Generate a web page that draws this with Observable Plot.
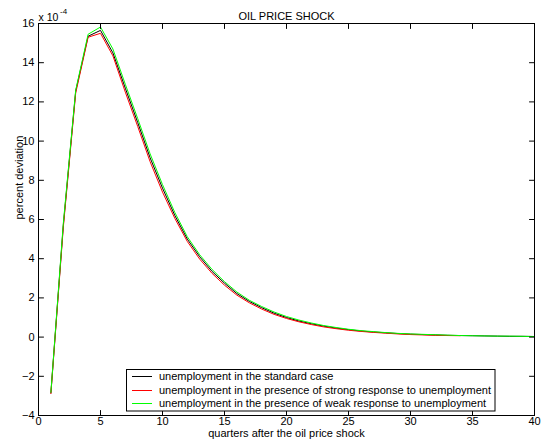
<!DOCTYPE html>
<html>
<head>
<meta charset="utf-8">
<script src="https://cdn.jsdelivr.net/npm/d3@7"></script>
<script src="https://cdn.jsdelivr.net/npm/@observablehq/plot@0.6"></script>
<style>
  html, body { margin: 0; padding: 0; background: white; }
</style>
</head>
<body>
<div id="chart"></div>
<script>
// Data (values in units of 1e-4)
const quarters = d3.range(1, 41);
const standardCase = [-2.85, 5.7, 12.55, 15.35, 15.65, 14.5, 12.7, 10.95, 9.15, 7.6,
  6.2, 5.0, 4.1, 3.35, 2.75, 2.22, 1.82, 1.5, 1.22, 1.0,
  0.82, 0.68, 0.56, 0.46, 0.38, 0.31, 0.26, 0.22, 0.18, 0.15,
  0.13, 0.11, 0.09, 0.08, 0.07, 0.06, 0.05, 0.04, 0.04, 0.03];
const strongResponse = [-2.88, 5.6, 12.45, 15.3, 15.5, 14.35, 12.5, 10.75, 8.95, 7.4,
  6.05, 4.88, 3.98, 3.25, 2.65, 2.14, 1.75, 1.43, 1.16, 0.95,
  0.78, 0.64, 0.52, 0.43, 0.35, 0.29, 0.24, 0.2, 0.16, 0.13,
  0.11, 0.09, 0.08, 0.07];
const weakResponse = [-2.82, 5.8, 12.6, 15.45, 15.82, 14.7, 12.9, 11.15, 9.35, 7.78,
  6.35, 5.12, 4.2, 3.45, 2.83, 2.3, 1.88, 1.56, 1.28, 1.05,
  0.87, 0.72, 0.59, 0.49, 0.4, 0.33, 0.28, 0.23, 0.19, 0.16,
  0.14, 0.12, 0.1, 0.08, 0.07, 0.06, 0.05, 0.05, 0.04, 0.03];

const seriesNames = [
  "unemployment in the standard case",
  "unemployment in the presence of strong response to unemployment",
  "unemployment in the presence of weak response to unemployment"
];
const seriesColors = ["#000000", "#ff0000", "#00ff00"];
const seriesValues = [standardCase, strongResponse, weakResponse];

const xTicks = [0, 5, 10, 15, 20, 25, 30, 35, 40];
const yTicks = [-4, -2, 0, 2, 4, 6, 8, 10, 12, 14, 16];

const titleText = "OIL PRICE SHOCK";
const xLabel = "quarters after the oil price shock";
const yLabel = "percent deviation";
const exponentBase = "x 10";
const exponentPower = "-4";

const tables = seriesValues.map((vals, i) =>
  vals.map((v, j) => ({q: quarters[j], v, s: seriesNames[i]})));

const tickShape = {draw(context, l) { context.moveTo(0, 0); context.lineTo(0, -l); }};
const font = "'Liberation Sans', Arial, sans-serif";

const plot = Plot.plot({
  width: 542,
  height: 446,
  marginLeft: 38,
  marginRight: 8,
  marginTop: 23,
  marginBottom: 31,
  style: {fontFamily: font, fontSize: "11px", background: "white", color: "black"},
  x: {domain: [0, 40]},
  y: {domain: [-4, 16]},
  marks: [
    // series
    ...tables.map((t, i) => Plot.line(t, {x: "q", y: "v", stroke: seriesColors[i], strokeWidth: 1})),
    Plot.frame({stroke: "black", strokeWidth: 1}),
    // inward ticks on all four sides
    Plot.vector(xTicks, {x: d => d, frameAnchor: "bottom", length: 5, rotate: 0, anchor: "start", shape: tickShape, stroke: "black", strokeWidth: 1}),
    Plot.vector(xTicks, {x: d => d, frameAnchor: "top", length: 5, rotate: 180, anchor: "start", shape: tickShape, stroke: "black", strokeWidth: 1}),
    Plot.vector(yTicks, {y: d => d, frameAnchor: "left", length: 5, rotate: 90, anchor: "start", shape: tickShape, stroke: "black", strokeWidth: 1}),
    Plot.vector(yTicks, {y: d => d, frameAnchor: "right", length: 5, rotate: -90, anchor: "start", shape: tickShape, stroke: "black", strokeWidth: 1}),
    // tick labels
    Plot.axisX({ticks: xTicks, anchor: "bottom", tickSize: 0, tickPadding: 2, label: null, fontSize: 11}),
    Plot.axisY({ticks: yTicks, anchor: "left", tickSize: 0, tickPadding: 4, label: null, fontSize: 11}),
    // texts
    Plot.text([titleText], {frameAnchor: "top", dy: -11, fontSize: 11}),
    Plot.text([xLabel], {frameAnchor: "bottom", dy: 21, fontSize: 11}),
    Plot.text([yLabel], {frameAnchor: "left", rotate: -90, dx: -19.5, fontSize: 11}),
    Plot.text([exponentBase], {frameAnchor: "top-left", textAnchor: "start", dx: 0, dy: -10, fontSize: 10.5}),
    Plot.text([exponentPower], {frameAnchor: "top-left", textAnchor: "start", dx: 21.5, dy: -15, fontSize: 8})
  ]
});

document.getElementById("chart").appendChild(plot);

// Legend inside the plot area (lower centre)
const svg = d3.select(plot);
const lg = svg.append("g").attr("font-family", font).attr("font-size", 11).attr("text-anchor", "start");
const lx = 126.5, ly = 369.5, lw = 368.5, lh = 41.5;
lg.append("rect").attr("x", lx).attr("y", ly).attr("width", lw).attr("height", lh)
  .attr("fill", "white").attr("stroke", "black").attr("stroke-width", 1);
const rowY = [376.5, 390.5, 403.5];
seriesNames.forEach((name, i) => {
  lg.append("line").attr("x1", lx + 5.5).attr("x2", lx + 25.5)
    .attr("y1", rowY[i]).attr("y2", rowY[i])
    .attr("stroke", seriesColors[i]).attr("stroke-width", 1);
  lg.append("text").attr("x", lx + 32.5).attr("y", rowY[i])
    .attr("dy", "0.35em").attr("fill", "black").attr("text-anchor", "start").text(name);
});
</script>
</body>
</html>
